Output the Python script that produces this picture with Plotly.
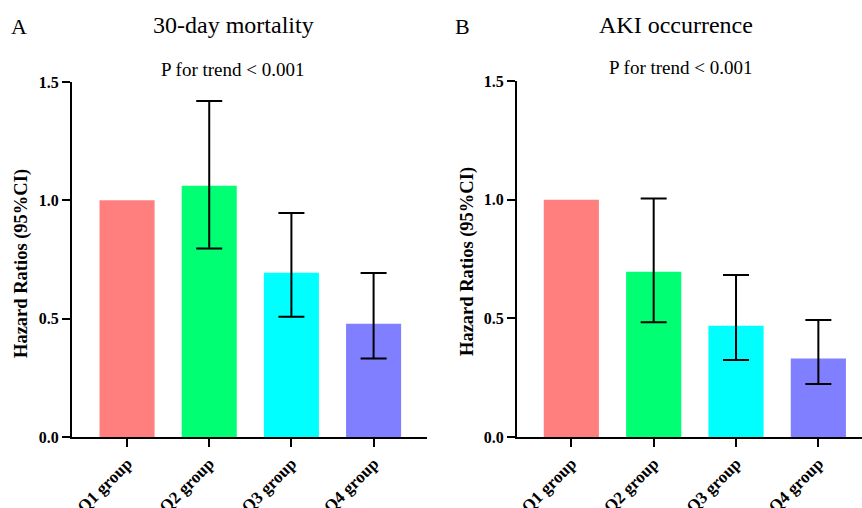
import plotly.graph_objects as go

categories = ["Q1 group", "Q2 group", "Q3 group", "Q4 group"]
colors = ["#FF7F7F", "#00FF73", "#00FFFF", "#7F7FFF"]

mort_hr = [1.0, 1.062, 0.694, 0.479]
mort_lo = [None, 0.796, 0.508, 0.332]
mort_hi = [None, 1.42, 0.946, 0.693]

aki_hr = [1.0, 0.696, 0.469, 0.331]
aki_lo = [None, 0.483, 0.324, 0.223]
aki_hi = [None, 1.005, 0.683, 0.493]

yticks = [0.0, 0.5, 1.0, 1.5]

W, H = 862, 508
FONT = "Liberation Serif, Times New Roman, serif"


def px_x(p):
    return p / W


def px_y(p):
    return 1 - p / H


fig = go.Figure()


def add_panel(hr, lo, hi, xa, ya):
    fig.add_trace(go.Bar(
        x=categories, y=hr, marker=dict(color=colors, line=dict(width=0)),
        width=0.67, xaxis=xa, yaxis=ya, showlegend=False, hoverinfo="skip",
    ))
    idx = [i for i in range(len(categories)) if lo[i] is not None]
    fig.add_trace(go.Scatter(
        x=[categories[i] for i in idx], y=[hr[i] for i in idx],
        mode="markers", marker=dict(size=1, opacity=0),
        xaxis=xa, yaxis=ya, showlegend=False, hoverinfo="skip",
        error_y=dict(
            type="data", symmetric=False,
            array=[hi[i] - hr[i] for i in idx],
            arrayminus=[hr[i] - lo[i] for i in idx],
            color="black", thickness=2, width=13,
        ),
    ))


add_panel(mort_hr, mort_lo, mort_hi, "x", "y")
add_panel(aki_hr, aki_lo, aki_hi, "x2", "y2")

xcommon = dict(
    showline=True, linecolor="black", linewidth=2,
    ticks="outside", ticklen=8, tickwidth=2, tickcolor="black",
    tickangle=-45, showgrid=False, zeroline=False, automargin=False,
    type="category",
    tickfont=dict(family=FONT, size=17, color="black", weight="bold"),
)
ycommon = dict(
    showline=True, linecolor="black", linewidth=2,
    ticks="outside", ticklen=8, tickwidth=2, tickcolor="black",
    showgrid=False, zeroline=False, range=[0, 1.5], automargin=False,
    tickvals=yticks, tickformat=".1f",
    tickfont=dict(family=FONT, size=16, color="black", weight="bold"),
)

fig.update_layout(
    width=W, height=H,
    margin=dict(l=0, r=0, t=0, b=0),
    paper_bgcolor="white", plot_bgcolor="white",
    xaxis=dict(domain=[px_x(72), px_x(427)], range=[-0.67, 3.65], anchor="y", **xcommon),
    yaxis=dict(domain=[px_y(437), px_y(82)], anchor="x", **ycommon),
    xaxis2=dict(domain=[px_x(517), px_x(862)], range=[-0.66, 3.53], anchor="y2", **xcommon),
    yaxis2=dict(domain=[px_y(437), px_y(81)], anchor="x2", **ycommon),
)

ann = [
    ("A", 19, 26, 22, "normal", 0),
    ("30-day mortality", 233, 25, 24, "normal", 0),
    ("P for trend < 0.001", 233, 70, 19, "normal", 0),
    ("B", 462, 26, 22, "normal", 0),
    ("AKI occurrence", 676, 25, 24, "normal", 0),
    ("P for trend < 0.001", 681, 68, 19, "normal", 0),
    ("Hazard Ratios (95%CI)", 21, 264, 18.5, "bold", -90),
    ("Hazard Ratios (95%CI)", 467, 262, 18.5, "bold", -90),
]
for text, x, y, size, weight, angle in ann:
    fig.add_annotation(
        text=text, x=px_x(x), y=px_y(y), xref="paper", yref="paper",
        showarrow=False, xanchor="center", yanchor="middle", textangle=angle,
        font=dict(family=FONT, size=size, color="black", weight=weight),
    )

fig.write_html(
    "out.html",
    config={"displayModeBar": False},
    post_script="document.body.style.margin='0';document.body.style.overflow='hidden';",
)
